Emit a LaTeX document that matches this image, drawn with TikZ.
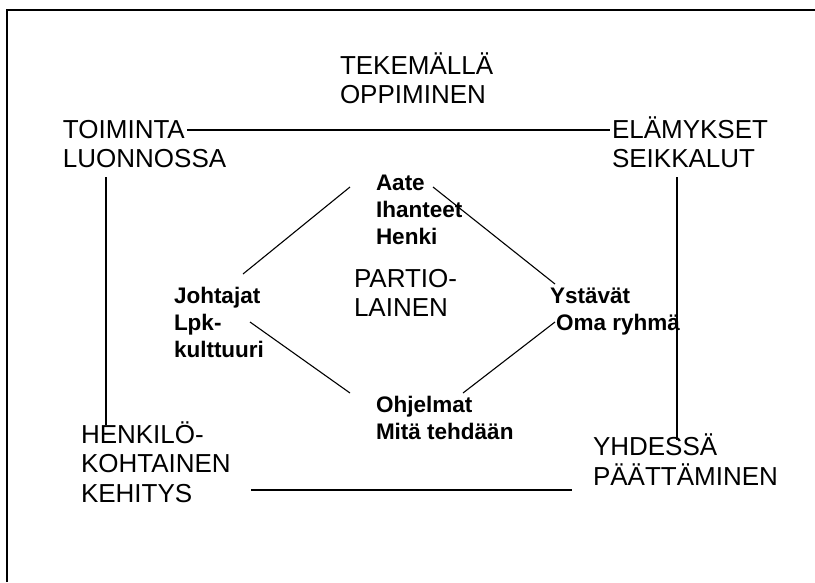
\documentclass[tikz,border=0pt]{standalone}
\usepackage{fontspec}
\setmainfont{Liberation Sans}
\tikzset{
  bigtext/.style={anchor=base west, inner sep=0pt, outer sep=0pt,
    font=\fontsize{26}{29.5}\selectfont},
  boldtext/.style={anchor=base west, inner sep=0pt, outer sep=0pt,
    font=\fontsize{22.5}{27}\selectfont\bfseries},
  conn/.style={line width=1.1pt, black},
  frame/.style={line width=2pt, black}
}
\newcommand{\lines}[1]{\begin{tabular}[t]{@{}l@{}}#1\end{tabular}}
\begin{document}
\begin{tikzpicture}[x=1pt, y=-1pt]
\useasboundingbox (0,0) rectangle (815,582);
\fill[white] (0,0) rectangle (815,582);
% frame (only top and left sides visible)
\coordinate (fbl) at (7,582);
\coordinate (ftl) at (7,10);
\coordinate (ftr) at (815,10);
\draw[frame] (fbl) -- (ftl) -- (ftr);

% outer texts
\node[bigtext] (tek) at (340,74) {\lines{TEKEMÄLLÄ\\OPPIMINEN}};
\node[bigtext] (toim) at (63,138) {\lines{TOIMINTA\\LUONNOSSA}};
\node[bigtext] (elam) at (612,138) {\lines{ELÄMYKSET\\SEIKKALUT}};
\node[bigtext] (henk) at (81,443) {\lines{HENKILÖ-\\KOHTAINEN\\KEHITYS}};
\node[bigtext] (yhd) at (593,455) {\lines{YHDESSÄ\\PÄÄTTÄMINEN}};
\node[bigtext] (part) at (354,287) {\lines{PARTIO-\\LAINEN}};

% inner bold texts
\node[boldtext] (aate) at (376,190) {\lines{Aate\\Ihanteet\\Henki}};
\node[boldtext] (joht) at (174,303) {\lines{Johtajat\\Lpk-\\kulttuuri}};
\node[boldtext] (yst) at (550,303) {\lines{Ystävät\\\hspace*{6pt}Oma ryhmä}};
\node[boldtext] (ohj) at (376,412) {\lines{Ohjelmat\\Mitä tehdään}};

% connector end points
\coordinate (tA) at (187,130);
\coordinate (tB) at (610,130);
\coordinate (lA) at (106,177);
\coordinate (lB) at (106,425);
\coordinate (rA) at (677,177);
\coordinate (rB) at (677,440);
\coordinate (bA) at (251,490);
\coordinate (bB) at (572,490);
\coordinate (d1a) at (243,274);
\coordinate (d1b) at (350,187);
\coordinate (d2a) at (433,187);
\coordinate (d2b) at (555,284);
\coordinate (d3a) at (250,322);
\coordinate (d3b) at (350,393);
\coordinate (d4a) at (463,393);
\coordinate (d4b) at (555,322);

% outer rectangle of connectors
\draw[conn] (tA) -- (tB);
\draw[conn, line width=1.4pt] (lA) -- (lB);
\draw[conn, line width=1.4pt] (rA) -- (rB);
\draw[conn, line width=1.4pt] (bA) -- (bB);
% inner diamond
\draw[conn] (d1a) -- (d1b);
\draw[conn] (d2a) -- (d2b);
\draw[conn] (d3a) -- (d3b);
\draw[conn] (d4a) -- (d4b);
\end{tikzpicture}
\end{document}
